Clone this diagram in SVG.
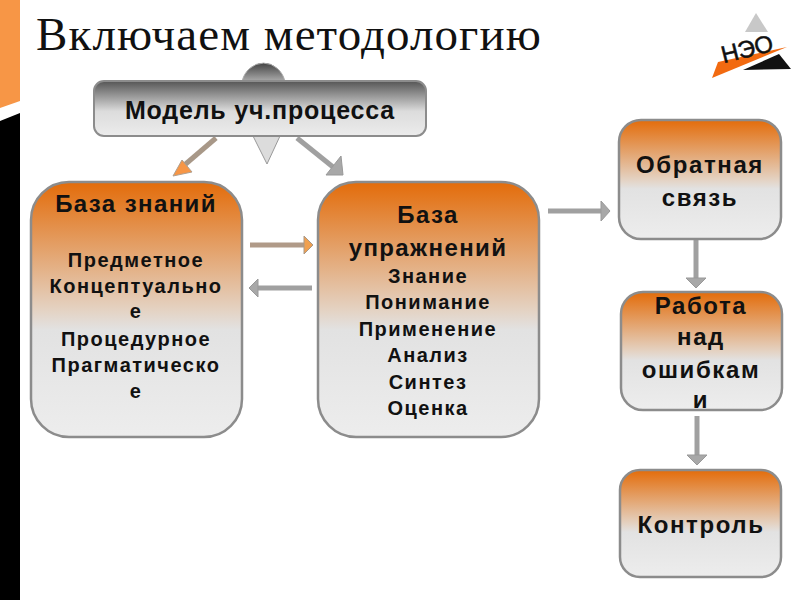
<svg xmlns="http://www.w3.org/2000/svg" width="800" height="600" viewBox="0 0 800 600">
<style>
.n{stroke:#8c8c8c;stroke-width:2.5}
.o{fill:url(#og)}
text{font-family:"Liberation Sans",Arial,sans-serif;font-weight:bold;fill:#111;text-anchor:middle}
.h{font-size:24px;letter-spacing:1.4px}
.s{font-size:20px;letter-spacing:1.5px}
.r{font-size:24px;letter-spacing:1.6px}
.c{fill:none;stroke:#a0a0a0;stroke-width:5}
.hd{fill:#a8a8a8;stroke:#999;stroke-width:1}
</style>
<defs>
<linearGradient id="og" x1="0" y1="0" x2="0" y2="1">
<stop offset="0" stop-color="#e36c0a"/><stop offset=".5" stop-color="#e4d2c2"/><stop offset=".58" stop-color="#e2e2e2"/><stop offset="1" stop-color="#ededed"/>
</linearGradient>
<linearGradient id="gg" x1="0" y1="0" x2="0" y2="1">
<stop offset="0" stop-color="#555"/><stop offset=".55" stop-color="#dcdcdc"/><stop offset="1" stop-color="#ececec"/>
</linearGradient>
<linearGradient id="dg" x1="0" y1="0" x2="0" y2="1">
<stop offset="0" stop-color="#444"/><stop offset="1" stop-color="#ddd"/>
</linearGradient>
</defs>
<rect width="800" height="600" fill="#fff"/>
<g id="sidebar">
<polygon points="0,0 20,0 20,101 0,108" fill="#f79646"/>
<polygon points="0,121 20,113 20,600 0,600" fill="#000"/>
</g>
<text x="289" y="50" style="font-family:'Liberation Serif',serif;font-weight:normal;font-size:47px;letter-spacing:1.1px;fill:#111">Включаем методологию</text>
<g id="logo">
<polygon points="756,13 745,32 768,32" fill="#c8c8c8"/>
<polygon points="743,70 791,69 779,54" fill="#111"/>
<polygon points="712,78 718,62 787,47" fill="#f26a10"/>
<text x="749" y="57" transform="rotate(-14 749 57)" style="font-size:24px;font-weight:normal;letter-spacing:-.3px" stroke="#111" stroke-width=".5">НЭО</text>
</g>
<g id="connectors">
<path d="M216,138 L181,168" fill="none" stroke="#a89888" stroke-width="5"/>
<polygon points="173,176 182,160 192,172" fill="#f79646" stroke="#b0a090"/>
<path d="M297,138 L333,167" class="c"/>
<polygon points="343,175 326,175 341,156" class="hd"/>
<path d="M250,245 L305,245" fill="none" stroke="#b09a88" stroke-width="5"/>
<polygon points="313,245 304,236 304,254" fill="#f0a050" stroke="#a89888"/>
<path d="M312,288 L258,288" class="c"/>
<polygon points="249,288 258,279 258,297" class="hd"/>
<path d="M548,211 L603,211" class="c"/>
<polygon points="610,211 601,201 601,221" class="hd"/>
<path d="M696,240 L696,280" class="c"/>
<polygon points="696,288 686,278 706,278" class="hd"/>
<path d="M697,416 L697,458" class="c"/>
<polygon points="697,465 687,455 707,455" class="hd"/>
</g>
<g id="node-top">
<path d="M242,82 A22,24 0 0 1 285,82 L285,90 L242,90 Z" fill="url(#dg)" stroke="#aaa"/>
<polygon points="253,136 280,136 267,164" fill="#dcdcdc" stroke="#999"/>
</g>
<g id="node-model">
<rect x="94" y="81" width="332" height="55" rx="10" fill="url(#gg)" stroke="#8c8c8c" stroke-width="2"/>
<text x="260" y="119" style="font-size:25px;letter-spacing:.8px">Модель уч.процесса</text>
</g>
<g id="node-knowledge">
<rect x="31" y="182" width="211" height="255" rx="38" class="n o"/>
<text x="136" y="212" class="h">База знаний</text>
<text x="136" y="267" class="s">Предметное</text>
<text x="136" y="293" class="s">Концептуально</text>
<text x="136" y="318" class="s">е</text>
<text x="136" y="346" class="s">Процедурное</text>
<text x="136" y="372" class="s">Прагматическо</text>
<text x="136" y="398" class="s">е</text>
</g>
<g id="node-exercises">
<rect x="318" y="182" width="221" height="255" rx="38" class="n o"/>
<text x="428" y="223" class="h">База</text>
<text x="428" y="256" class="h">упражнений</text>
<text x="428" y="283" class="s">Знание</text>
<text x="428" y="309" class="s">Понимание</text>
<text x="428" y="336" class="s">Применение</text>
<text x="428" y="362" class="s">Анализ</text>
<text x="428" y="389" class="s">Синтез</text>
<text x="428" y="415" class="s">Оценка</text>
</g>
<g id="node-feedback">
<rect x="619" y="120" width="162" height="119" rx="22" class="n o"/>
<text x="700" y="173" class="r">Обратная</text>
<text x="700" y="206" class="r">связь</text>
</g>
<g id="node-errors">
<rect x="621" y="292" width="161" height="118" rx="22" class="n o"/>
<text x="701" y="314" class="r">Работа</text>
<text x="701" y="345" class="r">над</text>
<text x="701" y="378" class="r">ошибкам</text>
<text x="701" y="408" class="r">и</text>
</g>
<g id="node-control">
<rect x="620" y="470" width="161" height="107" rx="20" class="n o"/>
<text x="701" y="533" class="r">Контроль</text>
</g>
</svg>
